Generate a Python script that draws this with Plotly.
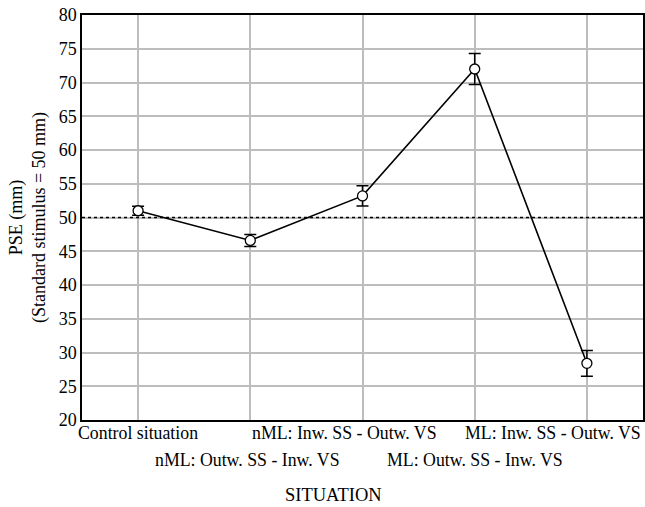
import plotly.graph_objects as go

categories = ["Control situation", "nML: Outw. SS - Inw. VS", "nML: Inw. SS - Outw. VS",
              "ML: Outw. SS - Inw. VS", "ML: Inw. SS - Outw. VS"]
pse = [51.0, 46.6, 53.2, 72.0, 28.4]
err = [0.65, 0.9, 1.5, 2.3, 1.9]
label_row = [0, 1, 0, 1, 0]
label_shift = [0, -3, -18, 0, 0]
reference_pse = 50
y_ticks = [20, 25, 30, 35, 40, 45, 50, 55, 60, 65, 70, 75, 80]

FONT = "Liberation Serif"
xpos = list(range(len(categories)))

fig = go.Figure()
fig.add_trace(go.Scatter(
    x=xpos, y=pse, mode="lines+markers",
    line=dict(color="black", width=1.6),
    marker=dict(symbol="circle", size=10, color="white", line=dict(color="black", width=1.3)),
    error_y=dict(type="data", array=err, visible=True, color="black", thickness=1.5, width=6),
    showlegend=False,
))

fig.add_shape(type="line", xref="paper", yref="y", x0=0, x1=1, y0=reference_pse, y1=reference_pse,
              line=dict(color="black", width=1.5, dash="dot"), layer="above")

for i, (cat, row, sh) in enumerate(zip(categories, label_row, label_shift)):
    last = i == len(categories) - 1
    fig.add_annotation(
        x=1 if last else i, xref="paper" if last else "x", y=0, yref="paper",
        text=cat, showarrow=False,
        xanchor="right" if last else "center", yanchor="top",
        xshift=sh, yshift=-1 - row * 27,
        font=dict(family=FONT, size=17.8, color="black"),
    )

fig.add_annotation(
    x=0.5, xref="paper", y=0, yref="paper", text="SITUATION", showarrow=False,
    xanchor="center", yanchor="middle", xshift=-29, yshift=-75,
    font=dict(family=FONT, size=18.5, color="black"),
)

fig.update_layout(
    width=645, height=507,
    margin=dict(l=82, r=2, t=15, b=87),
    paper_bgcolor="white", plot_bgcolor="white",
    font=dict(family=FONT, color="black"),
)
fig.update_xaxes(
    range=[-0.5, 4.5], tickvals=xpos, ticktext=[""] * len(xpos),
    showgrid=True, gridcolor="#bdbdbd", gridwidth=1.5,
    showline=True, linecolor="black", linewidth=1.5, mirror=True,
    ticks="", zeroline=False, automargin=False,
)
fig.update_yaxes(
    range=[20, 80], tickvals=y_ticks,
    showgrid=True, gridcolor="#bdbdbd", gridwidth=1.5,
    showline=True, linecolor="black", linewidth=1.5, mirror=True,
    ticks="", zeroline=False, automargin=False,
    tickfont=dict(family=FONT, size=18),
    title=dict(text="PSE (mm)<br>(Standard stimulus = 50 mm)", font=dict(family=FONT, size=18), standoff=8),
)

fig.write_html("out.html", config={"displayModeBar": False},
               post_script="document.body.style.margin='0';")
